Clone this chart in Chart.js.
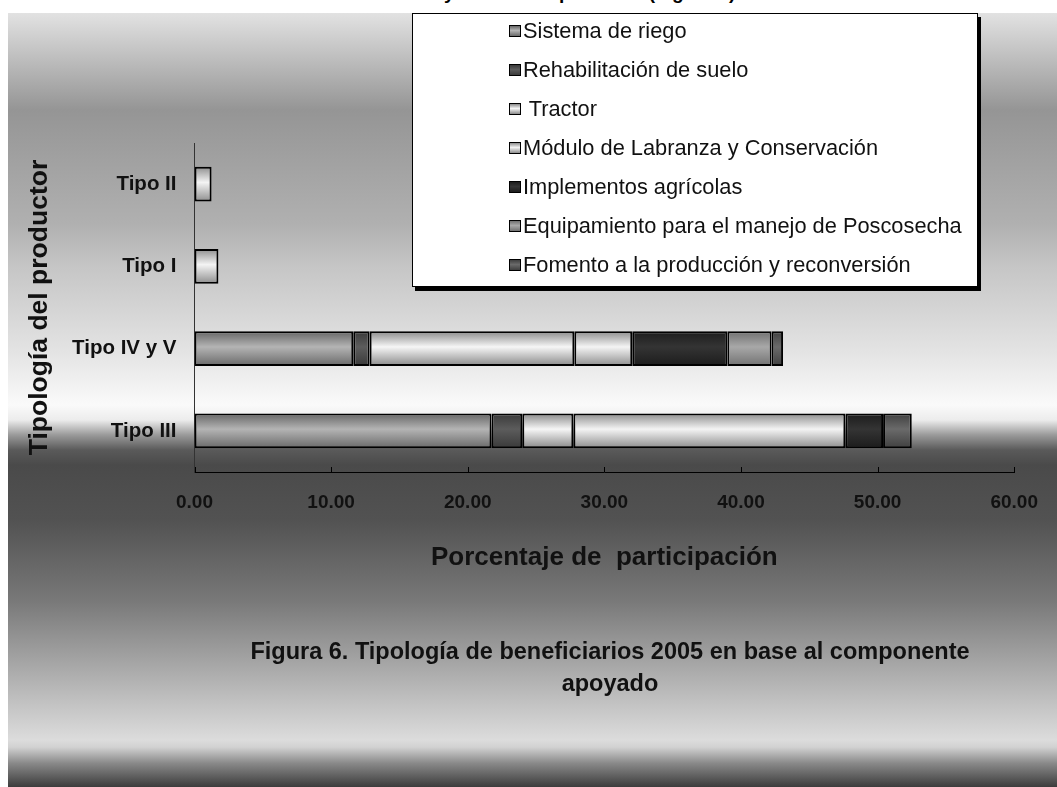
<!DOCTYPE html>
<html lang="es">
<head>
    <meta charset="UTF-8">
    <title>Tipología de beneficiarios 2005</title>
    <script src="https://cdn.jsdelivr.net/npm/chart.js"></script>
    <style>
        html, body {
            margin: 0;
            padding: 0;
            background: #fff;
            width: 1057px;
            height: 787px;
            overflow: hidden;
            font-family: "Liberation Sans", Arial, sans-serif;
        }
        .fondo {
            position: absolute;
            left: 8px; top: 13px; right: 0; bottom: 0;
            /* degradado vertical del área del gráfico (posiciones relativas al borde superior) */
            background: linear-gradient(to bottom,
                #e2e2e2 0px, #959595 97px, #b0b0b0 210px, #c6c6c6 255px,
                #e4e4e4 340px, #fafafa 392px, #ececec 407px, #9a9a9a 422px,
                #5a5a5a 437px, #4a4a4a 452px, #525252 507px, #787878 587px,
                #959595 627px, #c2c2c2 690px, #dcdcdc 727px, #d2d2d2 734px,
                #8a8a8a 750px, #3c3c3c 774px);
        }
        .cortado {
            position: absolute;
            left: 444px; top: -17px;
            font: bold 19px/19px "Liberation Sans", Arial, sans-serif;
            white-space: nowrap;
        }
        .grafico {
            position: absolute;
            left: 0; top: 0;
            width: 1057px; height: 787px;
        }
        .leyenda {
            position: absolute;
            left: 412px; top: 13px;
            width: 564px; height: 272px;
            background: #fff;
            border: 1px solid #000;
            box-shadow: 3px 4px 0 #000;
            overflow: hidden;
        }
        .leyenda ul {
            position: absolute;
            left: 96px; top: -3px;
            margin: 0; padding: 0;
            list-style: none;
        }
        .leyenda li {
            height: 39px;
            display: flex;
            align-items: center;
            font-size: 21.8px;
            color: #111;
            white-space: pre;
        }
        .leyenda span.caja {
            display: inline-block;
            width: 10px; height: 10px;
            border: 1px solid #000;
            margin-right: 2px;
        }
        .pie {
            position: absolute;
            left: 160px; top: 635px;
            width: 900px;
            text-align: center;
            font: bold 23.5px/32px "Liberation Sans", Arial, sans-serif;
            color: #111;
        }
    </style>
</head>
<body>
    <div class="cortado">y de los componentes (Figura 6).</div>
    <div class="fondo"></div>
    <div class="grafico"><canvas id="tipologia"></canvas></div>
    <div class="leyenda"><ul id="leyenda"></ul></div>
    <div class="pie">Figura 6. Tipología de beneficiarios 2005 en base al componente<br>apoyado</div>

    <script>
        // Categorías (de arriba hacia abajo) y porcentajes por componente
        const tipos = ['Tipo II', 'Tipo I', 'Tipo IV y V', 'Tipo III'];

        const sistemaRiego   = [null, null, 11.62, 21.74];
        const rehabilitacion = [null, null, 1.20, 2.25];
        const tractor        = [null, null, 14.98, 3.74];
        const moduloLabranza = [1.25, 1.75, 4.24, 19.91];
        const implementos    = [null, null, 6.96, 2.76];
        const equipamiento   = [null, null, 3.24, null];
        const fomento        = [null, null, 0.84, 2.10];

        const ticksX = [0, 10, 20, 30, 40, 50, 60];

        const anchoBarra = 0.42;

        // degradado vertical por barra: borde, centro, borde
        function relleno(tonos) {
            return function (context) {
                const chart = context.chart;
                const y = chart.scales.y;
                if (!chart.chartArea || !y) return tonos[1];
                const alto = y.height / tipos.length * anchoBarra;
                const cy = y.getPixelForValue(context.dataIndex);
                const g = chart.ctx.createLinearGradient(0, cy - alto / 2, 0, cy + alto / 2);
                g.addColorStop(0, tonos[0]);
                g.addColorStop(0.45, tonos[1]);
                g.addColorStop(1, tonos[2]);
                return g;
            };
        }

        const series = [
            { label: 'Sistema de riego', data: sistemaRiego, tonos: ['#666666', '#b4b4b4', '#6a6a6a'] },
            { label: 'Rehabilitación de suelo', data: rehabilitacion, tonos: ['#3a3a3a', '#5c5c5c', '#3a3a3a'] },
            { label: ' Tractor', data: tractor, tonos: ['#8a8a8a', '#f6f6f6', '#8a8a8a'] },
            { label: 'Módulo de Labranza y Conservación', data: moduloLabranza, tonos: ['#8e8e8e', '#f4f4f4', '#8e8e8e'] },
            { label: 'Implementos agrícolas', data: implementos, tonos: ['#1c1c1c', '#343434', '#1c1c1c'] },
            { label: 'Equipamiento para el manejo de Poscosecha', data: equipamiento, tonos: ['#707070', '#a8a8a8', '#727272'] },
            { label: 'Fomento a la producción y reconversión', data: fomento, tonos: ['#404040', '#6a6a6a', '#404040'] }
        ];

        // marcas interiores del eje X
        const marcasInteriores = {
            id: 'marcasInteriores',
            afterDraw(chart) {
                const x = chart.scales.x;
                const abajo = chart.chartArea.bottom;
                const ctx = chart.ctx;
                ctx.save();
                ctx.strokeStyle = '#000';
                ctx.lineWidth = 1;
                ctx.beginPath();
                x.ticks.forEach(t => {
                    const px = Math.round(x.getPixelForValue(t.value)) + 0.5;
                    ctx.moveTo(px, abajo - 5);
                    ctx.lineTo(px, abajo);
                });
                ctx.stroke();
                ctx.restore();
            }
        };

        const fuente = '"Liberation Sans", Arial, sans-serif';

        const chart = new Chart(document.getElementById('tipologia'), {
            type: 'bar',
            data: {
                labels: tipos,
                datasets: series.map(s => ({
                    label: s.label,
                    data: s.data,
                    backgroundColor: relleno(s.tonos),
                    borderColor: '#000',
                    borderWidth: 2,
                    borderSkipped: false,
                    barPercentage: anchoBarra,
                    categoryPercentage: 1
                }))
            },
            options: {
                indexAxis: 'y',
                responsive: true,
                maintainAspectRatio: false,
                animation: false,
                layout: {
                    padding: { left: 24, top: 143, right: 29, bottom: 214 }
                },
                plugins: {
                    legend: { display: false },
                    tooltip: { enabled: false }
                },
                scales: {
                    x: {
                        stacked: true,
                        min: 0,
                        max: 60,
                        afterFit(scale) { scale.height = 101; },
                        afterBuildTicks(scale) { scale.ticks = ticksX.map(v => ({ value: v })); },
                        grid: { display: false, drawTicks: false },
                        border: { display: true, color: '#000', width: 1 },
                        ticks: {
                            padding: 19,
                            color: '#111',
                            font: { family: fuente, size: 19, weight: 'bold' },
                            callback: v => Number(v).toFixed(2)
                        },
                        title: {
                            display: true,
                            text: 'Porcentaje de  participación',
                            color: '#111',
                            padding: 0,
                            font: { family: fuente, size: 26, weight: 'bold' }
                        }
                    },
                    y: {
                        stacked: true,
                        afterFit(scale) { scale.width = 170.5; },
                        grid: { display: false, drawTicks: false },
                        border: { display: true, color: '#333', width: 1 },
                        ticks: {
                            padding: 18,
                            color: '#111',
                            font: { family: fuente, size: 20.5, weight: 'bold' }
                        },
                        title: {
                            display: true,
                            text: 'Tipología del productor',
                            color: '#111',
                            padding: 0,
                            font: { family: fuente, size: 26.5, weight: 'bold' }
                        }
                    }
                }
            },
            plugins: [marcasInteriores]
        });

        // leyenda en HTML a partir de las series del gráfico
        const lista = document.getElementById('leyenda');
        chart.data.datasets.forEach((ds, i) => {
            const t = series[i].tonos;
            const li = document.createElement('li');
            const caja = document.createElement('span');
            caja.className = 'caja';
            caja.style.background = 'linear-gradient(to bottom,' + t[0] + ',' + t[1] + ' 45%,' + t[2] + ')';
            li.appendChild(caja);
            li.appendChild(document.createTextNode(ds.label));
            lista.appendChild(li);
        });
    </script>
</body>
</html>
